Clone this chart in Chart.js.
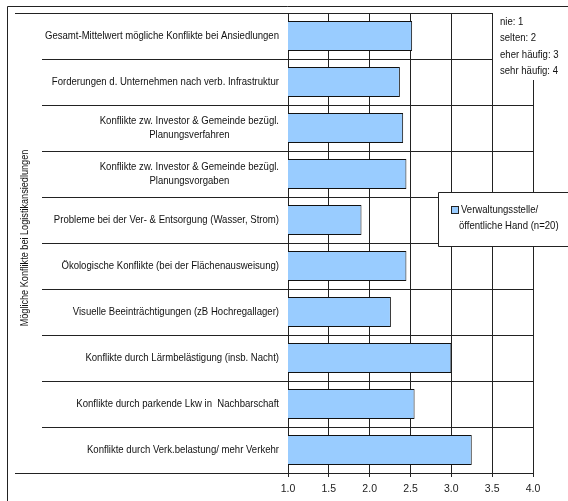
<!DOCTYPE html>
<html>
<head>
<meta charset="utf-8">
<script src="https://cdn.jsdelivr.net/npm/chart.js@4"></script>
<style>
  html, body { margin: 0; padding: 0; background: #fff; }
  #wrap { width: 568px; height: 501px; }
</style>
</head>
<body>
<div id="wrap"><canvas id="chart" width="568" height="501"></canvas></div>
<script>
// --- Data ---
const categories = [
  ['Gesamt-Mittelwert mögliche Konflikte bei Ansiedlungen'],
  ['Forderungen d. Unternehmen nach verb. Infrastruktur'],
  ['Konflikte zw. Investor & Gemeinde bezügl.', 'Planungsverfahren'],
  ['Konflikte zw. Investor & Gemeinde bezügl.', 'Planungsvorgaben'],
  ['Probleme bei der Ver- & Entsorgung (Wasser, Strom)'],
  ['Ökologische Konflikte (bei der Flächenausweisung)'],
  ['Visuelle Beeinträchtigungen (zB Hochregallager)'],
  ['Konflikte durch Lärmbelästigung (insb. Nacht)'],
  ['Konflikte durch parkende Lkw in  Nachbarschaft'],
  ['Konflikte durch Verk.belastung/ mehr Verkehr']
];
const values = [2.52, 2.37, 2.41, 2.45, 1.90, 2.45, 2.26, 3.00, 2.55, 3.25];
const seriesLabel = ['Verwaltungsstelle/', 'öffentliche Hand (n=20)'];
const scaleNote = ['nie: 1', 'selten: 2', 'eher häufig: 3', 'sehr häufig: 4'];
const axisTitle = 'Mögliche Konflikte bei Logistikansiedlungen';

const FONT = "'Liberation Sans', Arial, sans-serif";
const BAR_FILL = '#99ccff';
const LINE = '#222';
const SQUEEZE = 0.87; // the original text is set narrow

// draw text squeezed horizontally, anchored like textAlign
function squeezed(ctx, text, x, y, align) {
  const w = ctx.measureText(text).width * SQUEEZE;
  let left = x;
  if (align === 'center') left = x - w / 2;
  if (align === 'right') left = x - w;
  ctx.save();
  ctx.textAlign = 'left';
  ctx.translate(left, y);
  ctx.scale(SQUEEZE, 1);
  ctx.fillText(text, 0, 0);
  ctx.restore();
}

// --- Frame, labels, legend drawn on top of Chart.js scales ---
const decor = {
  id: 'decor',
  beforeDraw(chart) {
    const ctx = chart.ctx;
    ctx.save();
    ctx.fillStyle = '#fff';
    ctx.fillRect(0, 0, chart.width, chart.height);
    ctx.restore();
  },
  afterDraw(chart) {
    const ctx = chart.ctx;
    const area = chart.chartArea;
    const y = chart.scales.y;
    ctx.save();
    ctx.strokeStyle = LINE;
    ctx.lineWidth = 1;
    // outer frame (top + left)
    ctx.beginPath();
    ctx.moveTo(7.5, chart.height);
    ctx.lineTo(7.5, 6.5);
    ctx.lineTo(chart.width, 6.5);
    // top/bottom separators reach further left
    ctx.moveTo(15, Math.round(area.top) + 0.5);
    ctx.lineTo(42, Math.round(area.top) + 0.5);
    ctx.moveTo(15, Math.round(area.bottom) + 0.5);
    ctx.lineTo(42, Math.round(area.bottom) + 0.5);
    ctx.stroke();

    // category labels: block right aligned, lines centered
    ctx.fillStyle = '#111';
    ctx.font = '11px ' + FONT;
    ctx.textBaseline = 'middle';
    const right = area.left - 9;
    const lh = 14;
    categories.forEach((lines, i) => {
      const cy = y.getPixelForValue(i);
      const w = Math.max(...lines.map(l => ctx.measureText(l).width)) * SQUEEZE;
      const cx = right - w / 2;
      const y0 = cy - (lines.length - 1) * lh / 2;
      lines.forEach((l, j) => squeezed(ctx, l, cx, y0 + j * lh, 'center'));
    });

    // axis title
    ctx.save();
    ctx.translate(25, (area.top + area.bottom) / 2 - 5);
    ctx.rotate(-Math.PI / 2);
    ctx.font = '10.5px ' + FONT;
    squeezed(ctx, axisTitle, 0, 0, 'center');
    ctx.restore();

    // scale note box, top right
    ctx.fillStyle = '#fff';
    ctx.fillRect(493, 7, chart.width - 493, 73);
    ctx.fillStyle = '#111';
    ctx.font = '11px ' + FONT;
    scaleNote.forEach((t, i) => squeezed(ctx, t, 500, 22 + i * 16.3, 'left'));

    // legend box
    ctx.fillStyle = '#fff';
    ctx.fillRect(438, 192, chart.width - 438, 55);
    ctx.beginPath();
    ctx.moveTo(chart.width, 192.5);
    ctx.lineTo(438.5, 192.5);
    ctx.lineTo(438.5, 246.5);
    ctx.lineTo(chart.width, 246.5);
    ctx.stroke();
    ctx.fillStyle = BAR_FILL;
    ctx.fillRect(451.5, 206.5, 7, 7);
    ctx.strokeRect(451.5, 206.5, 7, 7);
    ctx.fillStyle = '#111';
    squeezed(ctx, seriesLabel[0], 461, 210, 'left');
    squeezed(ctx, seriesLabel[1], 459, 226, 'left');
    ctx.restore();
  }
};

new Chart(document.getElementById('chart'), {
  type: 'bar',
  data: {
    labels: categories,
    datasets: [{
      label: seriesLabel.join(' '),
      data: values,
      backgroundColor: BAR_FILL,
      borderColor: '#111',
      borderWidth: 1,
      borderSkipped: false,
      categoryPercentage: 1,
      barPercentage: 0.65
    }]
  },
  options: {
    indexAxis: 'y',
    responsive: false,
    animation: false,
    devicePixelRatio: 1,
    layout: { padding: { left: 0, top: 13, right: 35, bottom: 0 } },
    plugins: { legend: { display: false }, tooltip: { enabled: false } },
    scales: {
      x: {
        min: 1, max: 4,
        ticks: {
          stepSize: 0.5,
          callback: v => v.toFixed(1),
          color: '#222',
          font: { family: FONT, size: 10.5 },
          padding: 6
        },
        grid: { color: LINE, tickColor: LINE, tickLength: 4 },
        border: { color: LINE },
        afterFit: s => { s.height = 28; }
      },
      y: {
        ticks: { display: false },
        grid: { color: LINE, tickColor: LINE, tickLength: 246, offset: true },
        border: { color: LINE },
        afterFit: s => { s.width = 288; }
      }
    }
  },
  plugins: [decor]
});
</script>
</body>
</html>
